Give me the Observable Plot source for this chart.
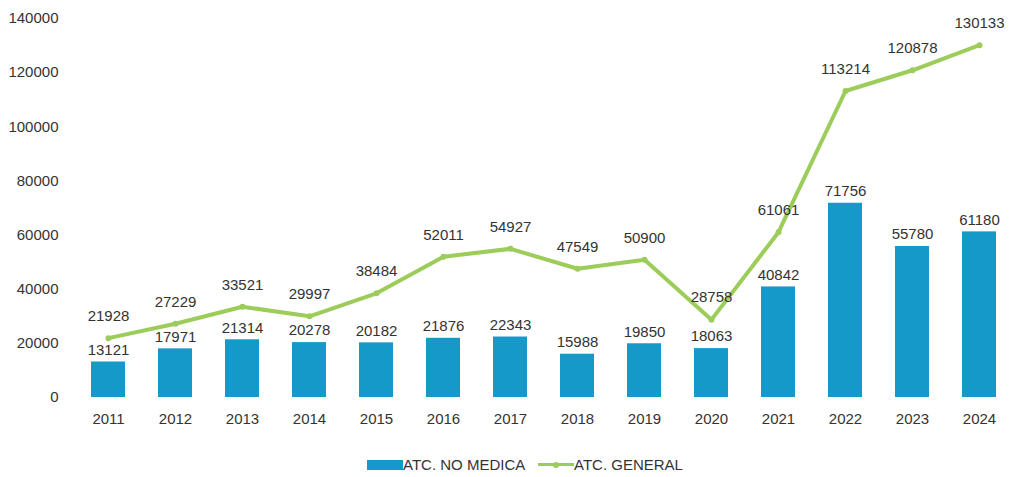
<!DOCTYPE html>
<html>
<head>
<meta charset="utf-8">
<script src="https://cdn.jsdelivr.net/npm/d3@7"></script>
<script src="https://cdn.jsdelivr.net/npm/@observablehq/plot@0.6"></script>
<style>
  body { margin: 0; background: #fff; font-family: "Liberation Sans", Arial, sans-serif; }
  #chart { width: 1010px; }
  .legend { position: relative; height: 37px; width: 1010px; font-size: 15px; color: #333; }
  .legend .item { position: absolute; top: 16px; display: flex; align-items: center; }
  .sw-bar { width: 36px; height: 10px; background: #1599c8; display: inline-block; }
  .sw-line { width: 36px; height: 10px; position: relative; display: inline-block; }
  .sw-line::before { content: ""; position: absolute; left: 0; right: 0; top: 3.5px; height: 3px; background: #9ccc5a; }
  .sw-line::after { content: ""; position: absolute; left: 15px; top: 2px; width: 6px; height: 6px; border-radius: 50%; background: #9ccc5a; }
</style>
</head>
<body>
<div id="chart"></div>
<div class="legend">
  <div class="item" style="left:367px"><span class="sw-bar"></span><span>ATC. NO MEDICA</span></div>
  <div class="item" style="left:538px"><span class="sw-line"></span><span>ATC. GENERAL</span></div>
</div>
<script>
const years = ["2011","2012","2013","2014","2015","2016","2017","2018","2019","2020","2021","2022","2023","2024"];
const noMedica = [13121,17971,21314,20278,20182,21876,22343,15988,19850,18063,40842,71756,55780,61180];
const general = [21928,27229,33521,29997,38484,52011,54927,47549,50900,28758,61061,113214,120878,130133];
const yTicks = [0,20000,40000,60000,80000,100000,120000,140000];

const bars = years.map((y, i) => ({year: y, value: noMedica[i]}));
const line = years.map((y, i) => ({year: y, value: general[i]}));

const chart = Plot.plot({
  width: 1010,
  height: 440,
  marginTop: 18,
  marginBottom: 43,
  marginLeft: 74,
  marginRight: 0,
  style: {fontFamily: "'Liberation Sans', Arial, sans-serif", fontSize: "15px", color: "#333", background: "#fff"},
  x: {domain: years, range: [90.5, 997], paddingInner: 0.493, paddingOuter: 0, label: null},
  y: {domain: [0, 140000], label: null, ticks: yTicks, tickFormat: d => String(d)},
  marks: [
    Plot.axisY({ticks: yTicks, tickSize: 0, tickPadding: 16, tickFormat: d => String(d), fontSize: 15, label: null}),
    Plot.axisX({tickSize: 0, tickPadding: 16, fontSize: 15, label: null}),
    Plot.barY(bars, {x: "year", y: "value", fill: "#1599c8"}),
    Plot.text(bars, {x: "year", y: "value", text: d => String(d.value), dy: -12, fontSize: 15, fill: "#333"}),
    Plot.line(line, {x: "year", y: "value", stroke: "#9ccc5a", strokeWidth: 4, strokeLinejoin: "round"}),
    Plot.dot(line, {x: "year", y: "value", r: 3, fill: "#9ccc5a"}),
    Plot.text(line, {x: "year", y: "value", text: d => String(d.value), dy: -22, fontSize: 15, fill: "#333"})
  ]
});
document.getElementById("chart").appendChild(chart);
</script>
</body>
</html>
